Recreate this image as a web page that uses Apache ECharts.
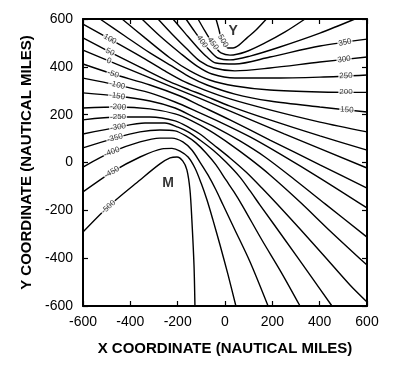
<!DOCTYPE html>
<html><head><meta charset="utf-8">
<script src="https://cdn.jsdelivr.net/npm/echarts@6/dist/echarts.min.js"></script>
<style>html,body{margin:0;padding:0;background:#fff}#c{width:400px;height:374px}</style>
</head><body><div id="c"></div>
<script>
// ---- data (nautical miles) ----
const xTicks = [-600, -400, -200, 0, 200, 400, 600];
const yTicks = [-600, -400, -200, 0, 200, 400, 600];

const c_m500 = [[-600,-291],[-486,-178],[-359,-73],[-275,-6],[-232,19],[-203,23],[-178,6],[-161,-31],[-148,-115],[-140,-240],[-131,-429],[-127,-600]];
const c_m450 = [[-600,-123],[-478,-40],[-359,23],[-266,57],[-224,59],[-190,48],[-156,23],[-127,-23],[-101,-86],[-76,-157],[-51,-240],[-21,-345],[13,-470],[46,-600]];
const c_m400 = [[-600,-19],[-478,44],[-359,86],[-275,102],[-224,102],[-178,86],[-140,52],[-106,2],[-72,-52],[-38,-115],[-8,-178],[42,-282],[106,-416],[182,-600]];
const c_m350 = [[-600,61],[-465,102],[-359,128],[-275,136],[-211,132],[-165,111],[-123,82],[-80,40],[-38,-10],[4,-73],[38,-123],[72,-178],[156,-324],[237,-458],[317,-600]];
const c_m300 = [[-600,119],[-452,148],[-338,165],[-254,165],[-199,148],[-156,128],[-106,94],[-51,52],[4,2],[63,-61],[106,-119],[148,-178],[254,-324],[359,-470],[452,-600]];
const c_m250 = [[-600,178],[-452,190],[-317,190],[-211,174],[-148,144],[-106,119],[-47,73],[21,19],[89,-40],[156,-107],[224,-178],[317,-278],[423,-395],[528,-512],[600,-583]];
const c_m200 = [[-600,228],[-452,232],[-317,224],[-211,203],[-140,174],[-63,132],[21,77],[106,15],[190,-52],[317,-165],[444,-286],[600,-429]];
const c_m150 = [[-600,291],[-456,278],[-317,257],[-211,228],[-131,190],[-42,148],[63,90],[169,23],[296,-73],[423,-173],[600,-312]];
const c_m100 = [[-600,353],[-456,324],[-317,291],[-211,253],[-123,215],[-21,169],[106,107],[232,36],[401,-65],[600,-190]];
const c_m50  = [[-600,412],[-473,370],[-317,324],[-190,278],[-110,240],[21,178],[190,94],[401,-10],[600,-107]];
const c_0    = [[-600,470],[-350,367],[-106,268],[250,120],[600,-23]];
const c_50   = [[-600,521],[-486,462],[-359,399],[-232,337],[-148,303],[-93,282],[21,236],[190,178],[401,111],[600,52]];
const c_100  = [[-600,579],[-486,516],[-359,445],[-254,383],[-169,337],[-85,303],[21,266],[190,220],[401,169],[600,128]];
const c_150  = [[-528,600],[-423,529],[-317,458],[-211,395],[-148,357],[-76,324],[42,286],[190,257],[401,232],[600,211]];
const c_200  = [[-435,600],[-338,521],[-232,437],[-148,383],[-65,345],[42,320],[190,303],[401,295],[600,293]];
const c_250  = [[-351,600],[-275,529],[-190,458],[-118,403],[-55,370],[42,353],[190,353],[401,357],[600,366]];
const c_300  = [[-283,600],[-220,533],[-156,470],[-106,424],[-47,395],[42,383],[190,395],[401,420],[600,441]];
const c_350  = [[-220,600],[-169,541],[-118,483],[-76,441],[-38,416],[42,412],[190,441],[401,487],[600,516]];
const c_400  = [[-165,600],[-127,546],[-93,500],[-59,462],[-30,437],[21,429],[106,445],[232,483],[401,541],[549,600]];
const c_450  = [[-114,600],[-85,550],[-59,508],[-38,479],[-17,458],[21,449],[85,462],[169,500],[254,546],[338,600]];
const c_500  = [[-38,600],[-25,554],[-17,521],[-4,496],[13,479],[34,479],[59,491],[93,521],[131,554],[175,600]];

// contour labels: text and anchor point (data coords)
const labelText = ['100','50','0','-50','-100','-150','-200','-250','-300','-350','-400','-450','-500',
                   '350','300','250','200','150','400','450','500'];
const labelPos  = [[-486,516],[-486,462],[-490,425],[-473,370],[-456,324],[-456,278],[-452,232],[-452,190],[-452,148],[-465,102],[-478,44],[-478,-40],[-492,-186],
                   [507,502],[503,431],[511,362],[511,295],[515,220],[-97,505],[-51,497],[-8,508]];
const stationText = ['M','Y'];
const stationPos  = [[-241,-86],[34,550]];

// ---- styles ----
const labelRotate = [-29,-27,-24,-18,-14,-9,-3,0,8,15,20,30,42, 12,8,2,0,-4, -55,-55,-60];
const contours = [c_m500,c_m450,c_m400,c_m350,c_m300,c_m250,c_m200,c_m150,c_m100,c_m50,c_0,
                  c_50,c_100,c_150,c_200,c_250,c_300,c_350,c_400,c_450,c_500];
const FONT = 'Liberation Sans';

const series = contours.map(pts => ({
  type: 'line', data: pts, showSymbol: false, smooth: 0.3, silent: true,
  lineStyle: {color: '#000', width: 1.4}, z: 2, animation: false
}));
series.push({
  type: 'scatter', symbolSize: 1, itemStyle: {color: 'rgba(0,0,0,0)'}, z: 5, silent: true,
  data: labelText.map((t, i) => ({name: t, value: labelPos[i], label: {rotate: labelRotate[i]}})),
  label: {show: true, position: 'inside', formatter: p => p.name, color: '#000',
          fontSize: 8, fontFamily: FONT, backgroundColor: '#fff', padding: [0, 1]}
});
series.push({
  type: 'scatter', symbolSize: 1, itemStyle: {color: 'rgba(0,0,0,0)'}, z: 5, silent: true,
  data: stationText.map((t, i) => ({name: t, value: stationPos[i]})),
  label: {show: true, position: 'inside', formatter: p => p.name, color: '#000',
          fontSize: 14, fontWeight: 'bold', fontFamily: FONT}
});

const axisCommon = {
  type: 'value', splitLine: {show: false},
  axisLine: {show: true, onZero: false, lineStyle: {color: '#000', width: 2}},
  axisTick: {show: true, inside: true, length: 5, lineStyle: {color: '#000', width: 1.2}}
};
const xStep = xTicks[1] - xTicks[0], yStep = yTicks[1] - yTicks[0];
const option = {
  animation: false,
  backgroundColor: '#fff',
  grid: {left: 83, right: 33, top: 19, bottom: 68},
  xAxis: [
    Object.assign({}, axisCommon, {position: 'bottom', min: xTicks[0], max: xTicks[xTicks.length-1], interval: xStep,
      name: 'X COORDINATE (NAUTICAL MILES)', nameLocation: 'middle', nameGap: 35,
      nameTextStyle: {fontSize: 15, fontWeight: 'bold', fontFamily: FONT, color: '#000'},
      axisLabel: {color: '#000', fontSize: 14, fontFamily: FONT, margin: 9}}),
    Object.assign({}, axisCommon, {position: 'top', min: xTicks[0], max: xTicks[xTicks.length-1], interval: xStep,
      axisLabel: {show: false}})
  ],
  yAxis: [
    Object.assign({}, axisCommon, {position: 'left', min: yTicks[0], max: yTicks[yTicks.length-1], interval: yStep,
      name: 'Y COORDINATE (NAUTICAL MILES)', nameLocation: 'middle', nameGap: 48,
      nameTextStyle: {fontSize: 15, fontWeight: 'bold', fontFamily: FONT, color: '#000'},
      axisLabel: {color: '#000', fontSize: 14, fontFamily: FONT, margin: 10}}),
    Object.assign({}, axisCommon, {position: 'right', min: yTicks[0], max: yTicks[yTicks.length-1], interval: yStep,
      axisLabel: {show: false}})
  ],
  series: series
};
const chart = echarts.init(document.getElementById('c'), null, {renderer: 'canvas'});
chart.setOption(option);
</script></body></html>
